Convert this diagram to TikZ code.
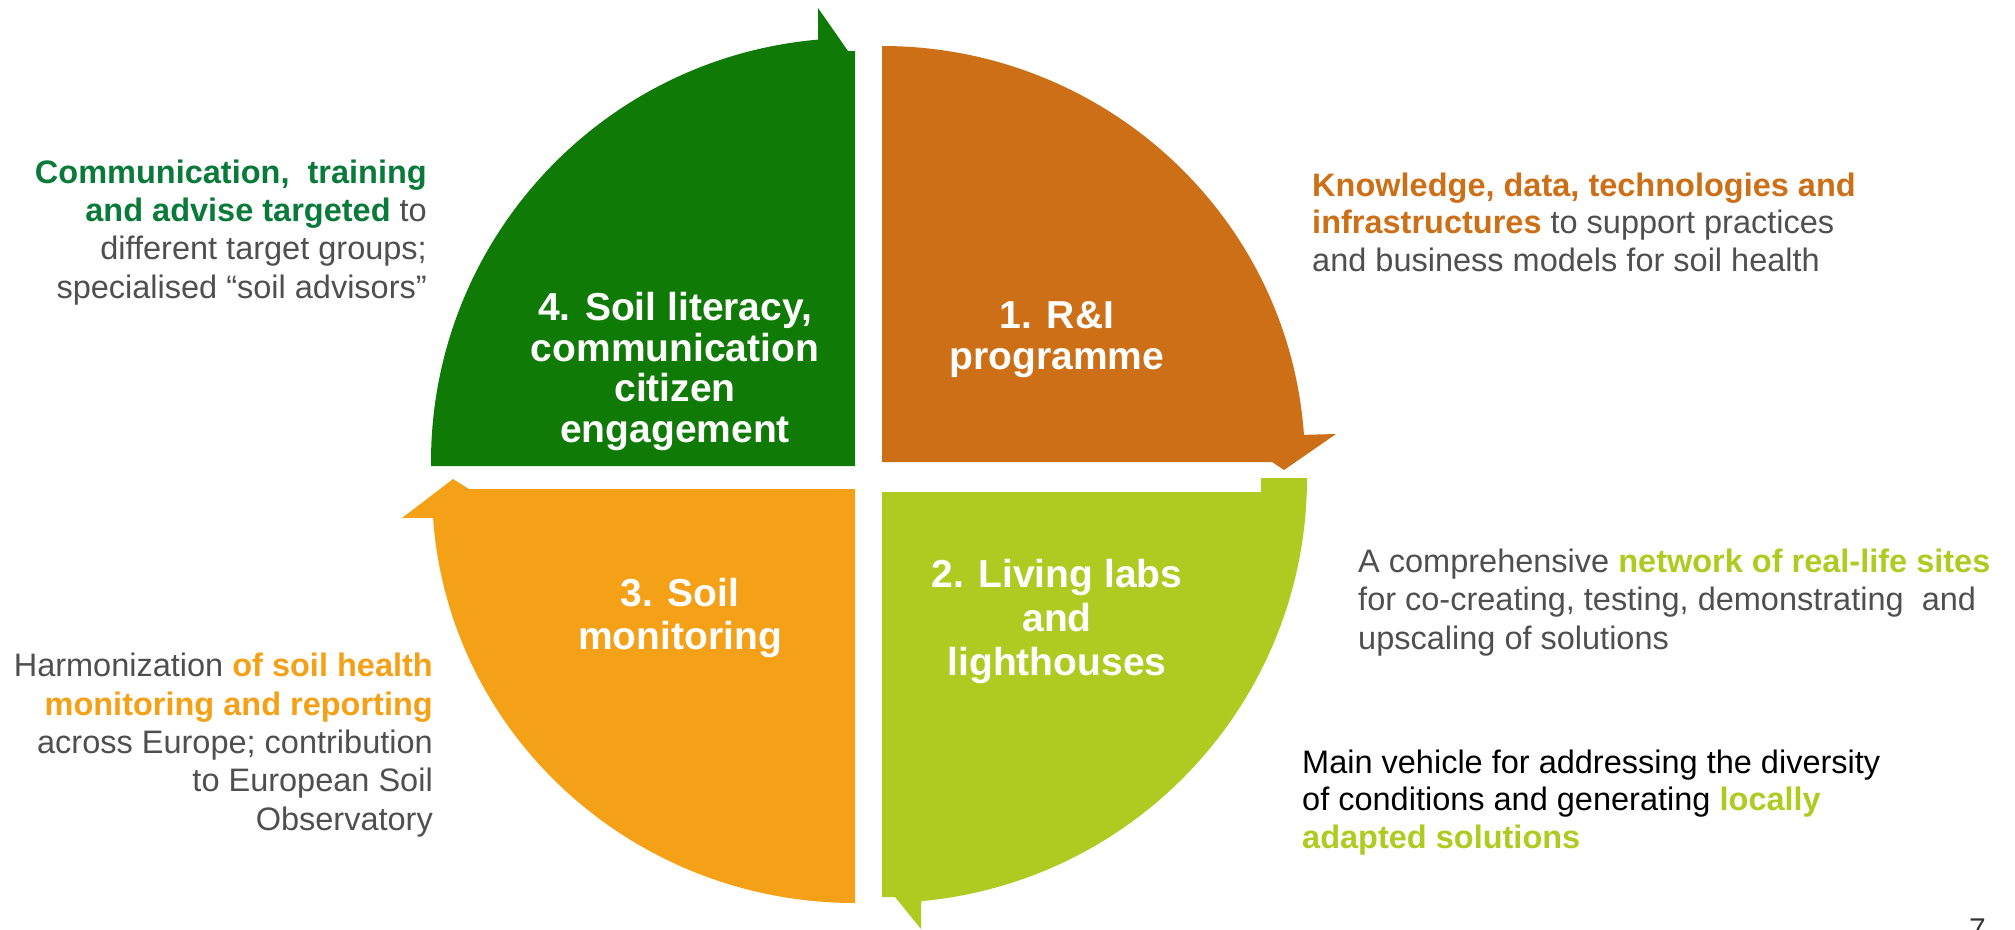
\documentclass[tikz,border=0pt]{standalone}
\usepackage{fontspec}
\setmainfont{Liberation Sans}
\definecolor{greenQ}{HTML}{107A06}
\definecolor{greenT}{HTML}{0A7A3A}
\definecolor{orangeQ}{HTML}{CC6F17}
\definecolor{limeQ}{HTML}{AFCB21}
\definecolor{amberQ}{HTML}{F4A118}
\definecolor{grayT}{HTML}{4F4F4F}
\newcommand\hlg[1]{{\bfseries\color{greenT}#1}}
\newcommand\hlo[1]{{\bfseries\color{orangeQ}#1}}
\newcommand\hll[1]{{\bfseries\color{limeQ}#1}}
\newcommand\hla[1]{{\bfseries\color{amberQ}#1}}
\tikzset{
  qlabel/.style={text=white, align=center, anchor=base, inner sep=0pt,
    font=\bfseries\fontsize{39}{43}\selectfont},
  desc/.style={text=grayT, inner sep=0pt, font=\fontsize{32.5}{38}\selectfont}
}
\begin{document}
\begin{tikzpicture}[x=1pt,y=1pt]
\useasboundingbox (0,0) rectangle (2015,-929);
% quadrants
\fill[greenQ] (855,-466) -- (431,-466) -- (431,-462) arc[start angle=180, end angle=95, radius=424]
  -- (818,-8) -- (848,-51) -- (855,-51) -- cycle;
\fill[orangeQ] (882,-462) -- (882,-46) arc[start angle=90, end angle=4, x radius=423, y radius=418]
  -- (1336,-434) -- (1284,-470) -- (1272,-462) -- cycle;
\fill[limeQ] (882,-492) -- (1261,-492) -- (1261,-478) -- (1307,-478)
  arc[start angle=0, end angle=-84.7, radius=425]
  -- (921,-929) -- (895,-897) -- (882,-897) -- cycle;
\fill[amberQ] (855,-489) -- (855,-903) arc[start angle=270, end angle=184, x radius=423, y radius=414]
  -- (402,-518) -- (453,-479) -- (469,-489) -- cycle;
% quadrant labels (anchor = baseline of last line)
\node[qlabel, font=\bfseries\fontsize{39}{40.5}\selectfont] (q4) at (675,-442) {4. Soil literacy,\\communication\\citizen\\engagement};
\node[qlabel, font=\bfseries\fontsize{39}{41}\selectfont] (q1) at (1057,-369) {1. R\&I\\programme};
\node[qlabel, font=\bfseries\fontsize{39}{44}\selectfont] (q2) at (1057,-675) {2. Living labs\\and\\lighthouses};
\node[qlabel] (q3) at (680,-649) {3. Soil\\monitoring};
% descriptions
\node[desc, anchor=base west, align=left, font=\fontsize{32.5}{37.5}\selectfont] (d1) at (1312,-271)
  {\hlo{Knowledge, data, technologies and}\\\hlo{infrastructures} to support practices\\and business models for soil health};
\node[desc, anchor=base west, align=left, font=\fontsize{32.5}{38.5}\selectfont] (d2) at (1358,-649)
  {A comprehensive \hll{network of real-life sites}\\for co-creating, testing, demonstrating\ \ and\\upscaling of solutions};
\node[desc, text=black, anchor=base west, align=left, font=\fontsize{32.5}{37.5}\selectfont] (d3) at (1302,-848)
  {Main vehicle for addressing the diversity\\of conditions and generating \hll{locally}\\\hll{adapted solutions}};
\node[desc, anchor=base east, align=right, font=\fontsize{32.5}{38.3}\selectfont] (d4) at (427,-298)
  {\hlg{Communication,\ \ training}\\\hlg{and advise targeted} to\\different target groups;\\specialised “soil advisors”};
\node[desc, anchor=base east, align=right, font=\fontsize{32.5}{38.3}\selectfont] (d5) at (433,-830)
  {Harmonization \hla{of soil health}\\\hla{monitoring and reporting}\\across Europe; contribution\\to European Soil\\Observatory};
\node[anchor=base west, inner sep=0pt, text=black!80, font=\fontsize{30}{30}\selectfont] (pg) at (1969,-939) {7};
\end{tikzpicture}
\end{document}
